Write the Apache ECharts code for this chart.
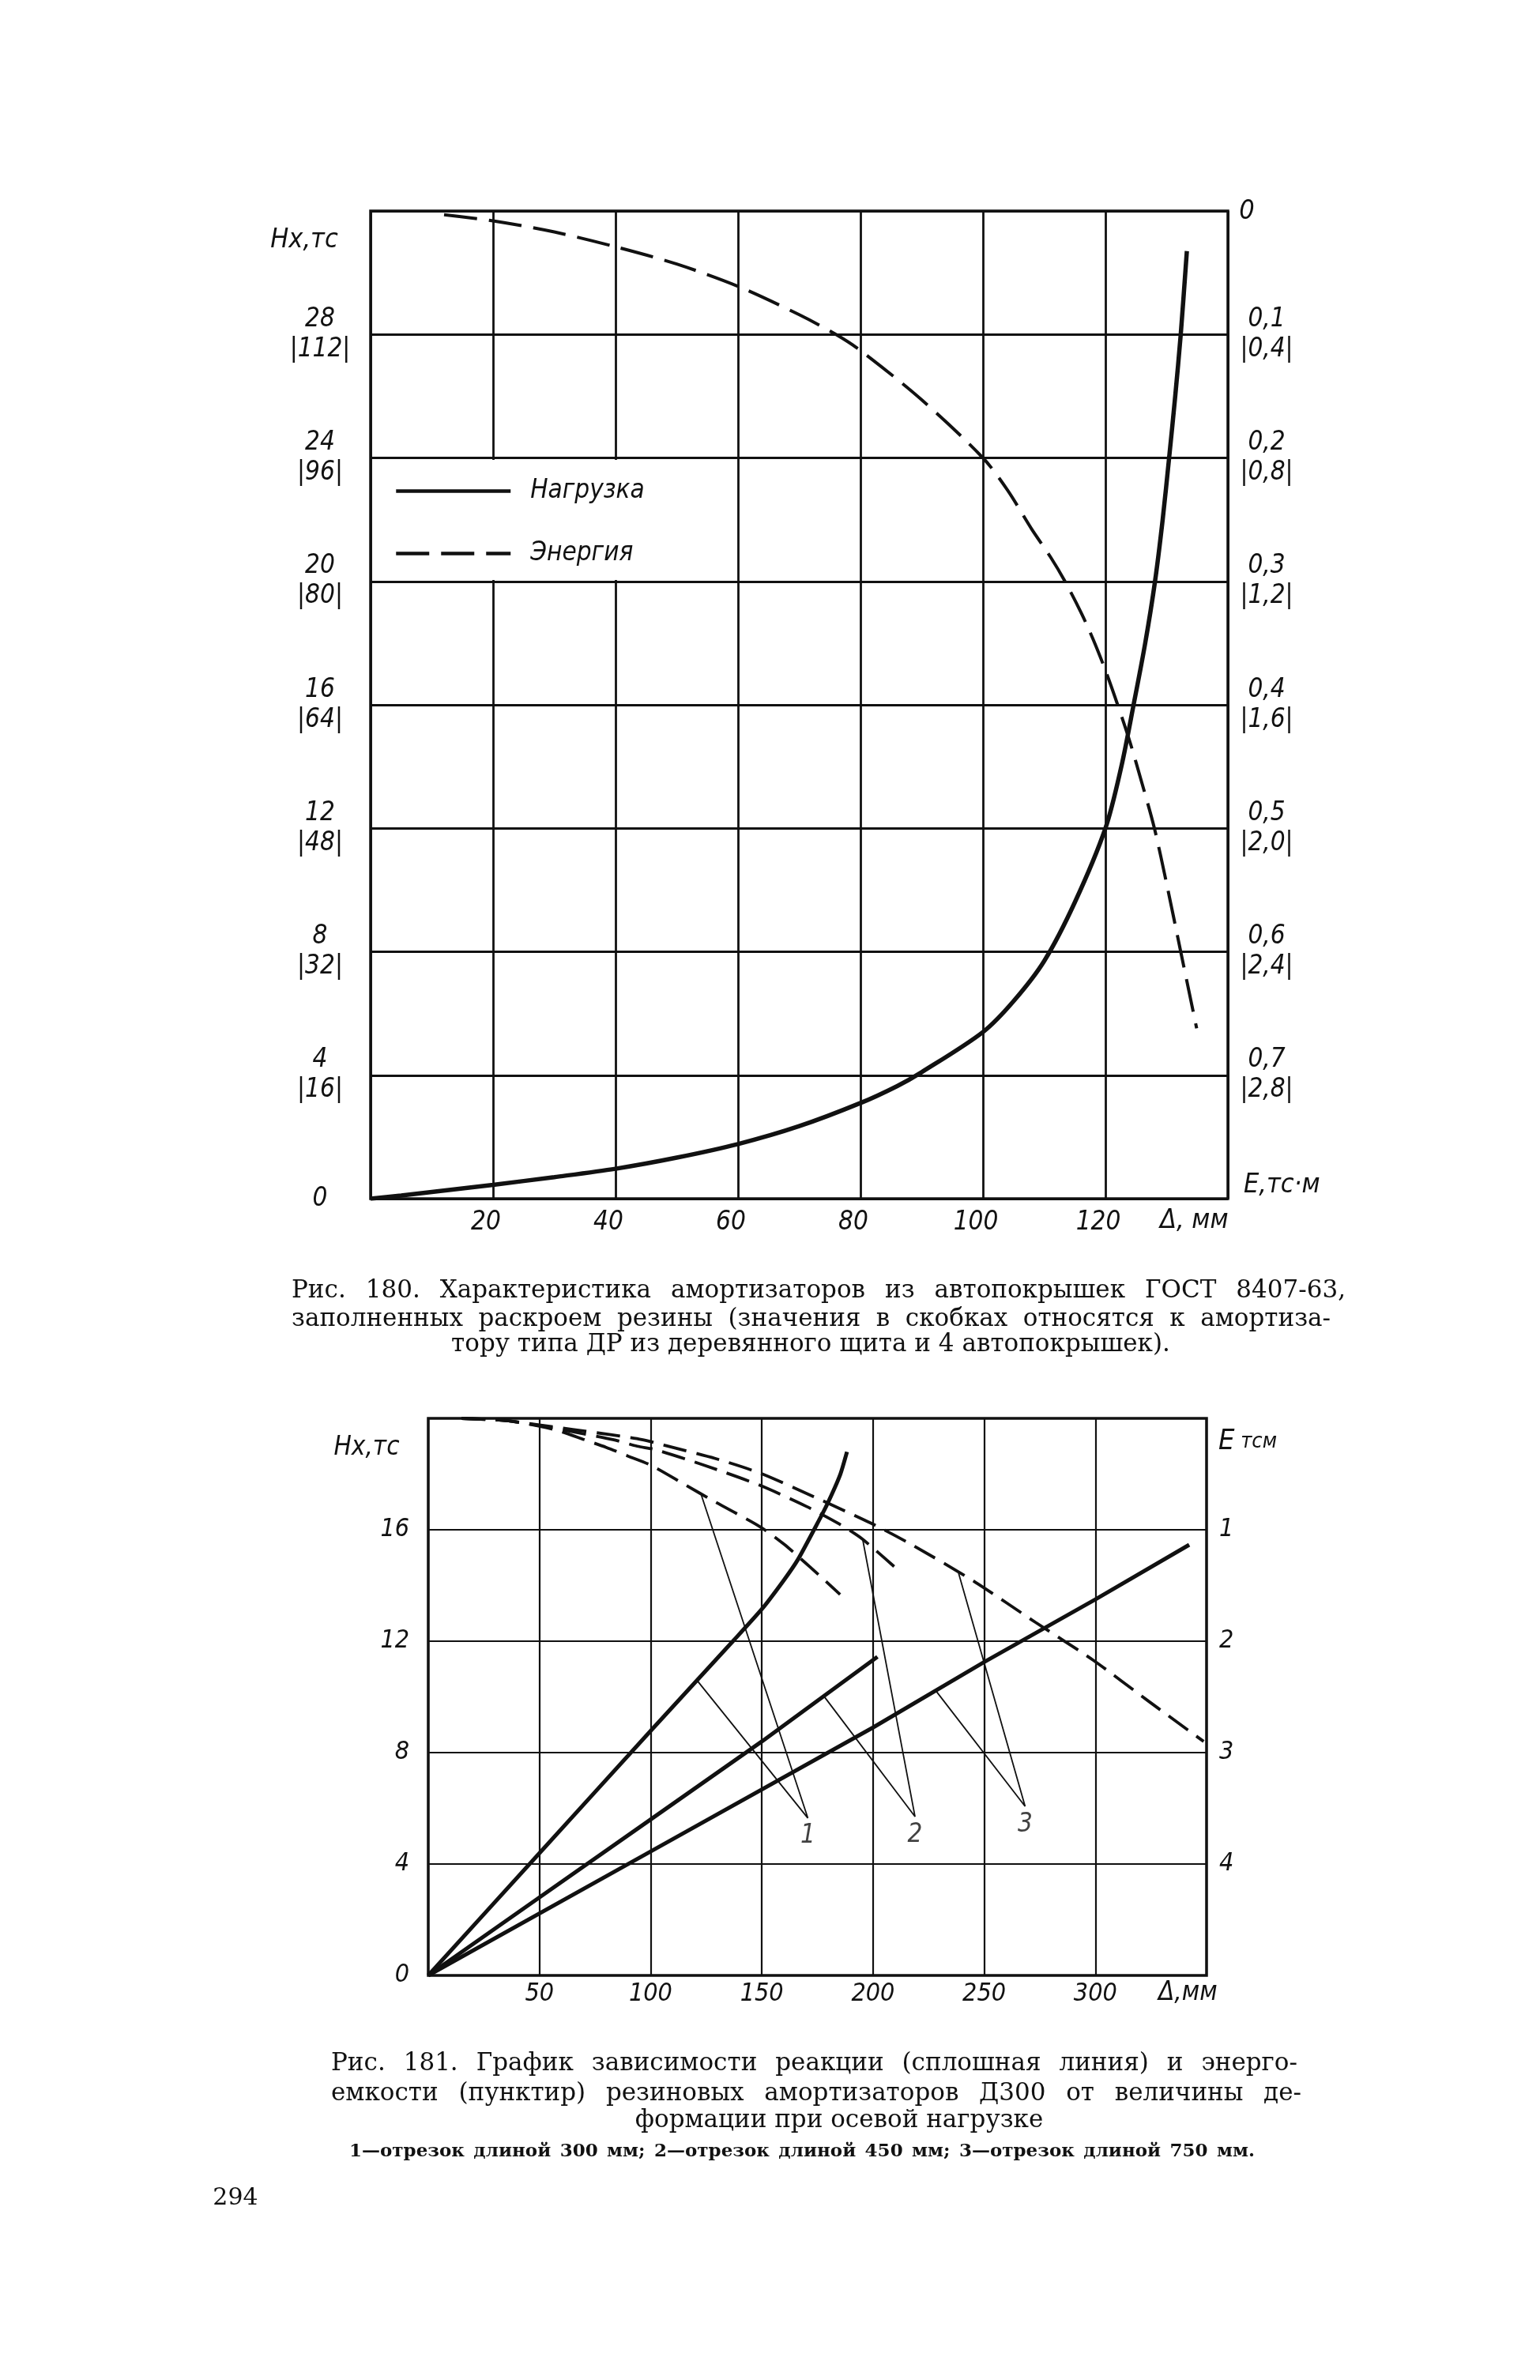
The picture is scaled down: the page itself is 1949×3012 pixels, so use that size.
<!DOCTYPE html>
<html><head><meta charset="utf-8">
<script src="https://cdn.jsdelivr.net/npm/echarts@6/dist/echarts.min.js"></script>
<style>html,body{margin:0;padding:0;background:#fff}#c{width:1949px;height:3012px}</style>
</head><body><div id="c"></div>
<script>
// ===== Fig. 180 data =====
const fig180LoadX   = [0,5,10,20,30,40,50,60,70,80,86,90,100,105,110,115,120,122.6,124.6,126.5,128.1,129.35,130.4,131.4,132.3,133.3];
const fig180LoadY   = [0,0.1,0.22,0.45,0.7,0.97,1.33,1.77,2.35,3.1,3.65,4.1,5.4,6.4,7.7,9.6,12.0,14.0,16.0,18.0,20.0,22.0,24.0,26.0,28.0,30.7];
const fig180EnergyX = [12,20,30,40,50,60,70,76,80,90,100,104,108,111,113.4,116,118,120,122,124,126,128,130,132.3,134.9];
const fig180EnergyE = [0.003,0.008,0.017,0.029,0.043,0.061,0.084,0.1,0.113,0.153,0.2,0.226,0.258,0.28,0.3,0.325,0.347,0.372,0.4,0.43,0.464,0.5,0.545,0.6,0.662];
const fig180XTicks      = [20,40,60,80,100,120];
const fig180LeftTicks   = [4,8,12,16,20,24,28];
const fig180LeftBracket = [16,32,48,64,80,96,112];
const fig180RightTicks  = ['0,1','0,2','0,3','0,4','0,5','0,6','0,7'];
const fig180RightBracket= ['0,4','0,8','1,2','1,6','2,0','2,4','2,8'];
const fig180Legend = ['Нагрузка','Энергия'];

// ===== Fig. 181 data =====
const load1X = [0,50,100,137,150,160,166.3,174.6,179.3,185.2,188.3];
const load1Y = [0,4.39,8.78,12.0,13.15,14.2,14.94,16.17,16.9,17.97,18.8];
const load2X = [0,50,100,150,202];
const load2Y = [0,2.8,5.6,8.4,11.44];
const load3X = [0,100,200,250,300,342.2];
const load3Y = [0,4.45,8.9,11.25,13.5,15.46];
const energy1X = [15,35,50,60,70,80,90,100,115,129,149,160,172,185.2];
const energy1E = [0,0.02,0.07,0.12,0.19,0.26,0.34,0.42,0.59,0.75,0.97,1.13,1.34,1.58];
const energy2X = [15,35,50,65,83,94,102,124,149,170,185,195,209.5];
const energy2E = [0,0.02,0.065,0.12,0.19,0.25,0.28,0.42,0.6,0.79,0.95,1.08,1.33];
const energy3X = [15,35,50,65,82,96,106,129,149,173,199,218,246,273,299,324,348.7];
const energy3E = [0,0.02,0.06,0.1,0.147,0.19,0.24,0.36,0.49,0.7,0.94,1.14,1.47,1.83,2.17,2.54,2.9];
// leader lines: [point on energy curve (in H units), apex, point on load line]
const leader1 = [[122.5,17.32],[170.7,5.65],[120.8,10.6]];
const leader2 = [[195.3,15.68],[218.9,5.7],[177.8,10.04]];
const leader3 = [[238.5,14.44],[268.4,6.07],[227.9,10.26]];
const leaderNames = ['1','2','3'];
const fig181XTicks = [50,100,150,200,250,300];
const fig181LeftTicks = [0,4,8,12,16];
const fig181RightTicks = [1,2,3,4];

const zip = (a,b) => a.map((v,i)=>[v,b[i]]);
const INK = '#111';
const NARROW = "'Liberation Sans Narrow','DejaVu Sans Condensed','Liberation Sans',sans-serif";
const SERIF = "'DejaVu Serif','Liberation Serif',serif";

const lblStyle = {color:INK, fontStyle:'italic', fontFamily:NARROW};

// ---------- justified caption helper ----------
const mctx = document.createElement('canvas').getContext('2d');
function justify(line, x0, x1, y, font) {
  const words = line.split(' ');
  mctx.font = font;
  const ws = words.map(w => mctx.measureText(w).width);
  const tot = ws.reduce((a,b)=>a+b,0);
  const gap = words.length > 1 ? (x1 - x0 - tot) / (words.length - 1) : 0;
  let x = x0; const out = [];
  words.forEach((w,i) => {
    out.push({type:'text', silent:true, z:10, style:{text:w, x:x, y:y, font:font, fill:INK, textVerticalAlign:'middle', verticalAlign:'middle'}});
    x += ws[i] + gap;
  });
  return out;
}
function txt(t, x, y, font, align) {
  return {type:'text', silent:true, z:10, style:{text:t, x:x, y:y, font:font, fill:INK,
    textAlign:align||'left', align:align||'left', textVerticalAlign:'middle', verticalAlign:'middle'}};
}

const capFont = "31px " + SERIF;
const noteFont = "bold 23px " + SERIF;
const itFont = "italic 34px " + NARROW;

let graphics = [];
// white patch behind the legend (hides the grid there, as in the original)
graphics.push({type:'rect', silent:true, z:1, shape:{x:471, y:582, width:457, height:152}, style:{fill:'#fff'}});
graphics.push(txt('Hx,тс', 385, 304, itFont, 'center'));
graphics.push(txt('0', 1578, 268, itFont, 'center'));
graphics.push(txt('E,тс·м', 1574, 1500, itFont, 'left'));
graphics.push(txt('Δ, мм', 1468, 1545, itFont, 'left'));
graphics.push(txt('Hx,тс', 464, 1832, "italic 33px " + NARROW, 'center'));
graphics.push({type:'text', silent:true, z:10, style:{text:'{a|E}{b| тсм}', x:1542, y:1825, fill:INK,
  textVerticalAlign:'middle', verticalAlign:'middle',
  rich:{a:{fontSize:36, fontStyle:'italic', fontFamily:NARROW, fill:INK},
        b:{fontSize:27, fontStyle:'italic', fontFamily:NARROW, fill:INK}}}});
graphics.push(txt('Δ,мм', 1466, 2522, "italic 33px " + NARROW, 'left'));

graphics = graphics.concat(
  justify('Рис. 180. Характеристика амортизаторов из автопокрышек ГОСТ 8407-63,', 369, 1703, 1634, capFont),
  justify('заполненных раскроем резины (значения в скобках относятся к амортиза-', 369, 1684, 1670, capFont)
);
graphics.push(txt('тору типа ДР из деревянного щита и 4 автопокрышек).', 1026, 1702, capFont, 'center'));
graphics = graphics.concat(
  justify('Рис. 181. График зависимости реакции (сплошная линия) и энерго-', 419, 1642, 2612, capFont),
  justify('емкости (пунктир) резиновых амортизаторов Д300 от величины де-', 419, 1647, 2650, capFont)
);
graphics.push(txt('формации при осевой нагрузке', 1062, 2684, capFont, 'center'));
graphics = graphics.concat(
  justify('1—отрезок длиной 300 мм; 2—отрезок длиной 450 мм; 3—отрезок длиной 750 мм.', 442, 1588, 2723, noteFont)
);
graphics.push(txt('294', 298, 2782, "30px " + SERIF, 'center'));

const chart = echarts.init(document.getElementById('c'), null, {renderer:'canvas'});

const option = {
  backgroundColor:'#fff',
  animation:false,
  grid:[
    {left:469, top:267, width:1085, height:1250, show:true, borderColor:INK, borderWidth:3.5, backgroundColor:'transparent'},
    {left:542, top:1795, width:985, height:705, show:true, borderColor:INK, borderWidth:3.5, backgroundColor:'transparent'}
  ],
  xAxis:[
    {gridIndex:0, type:'value', min:0, max:140, interval:20,
     axisLine:{show:false}, axisTick:{show:false},
     splitLine:{show:true, lineStyle:{color:INK, width:2.8}},
     axisLabel:Object.assign({margin:14, fontSize:33, padding:[0,18,0,0],
       formatter:v => fig180XTicks.includes(v) ? String(v) : ''}, lblStyle)},
    {gridIndex:1, type:'value', min:0, max:350, interval:50,
     axisLine:{show:false}, axisTick:{show:false},
     splitLine:{show:true, lineStyle:{color:INK, width:2.2}},
     axisLabel:Object.assign({margin:8, fontSize:32,
       formatter:v => fig181XTicks.includes(v) ? String(v) : ''}, lblStyle)}
  ],
  yAxis:[
    {gridIndex:0, type:'value', min:0, max:32, interval:4, position:'left',
     axisLine:{show:false}, axisTick:{show:false},
     splitLine:{show:true, lineStyle:{color:INK, width:2.8}},
     axisLabel:Object.assign({margin:64, fontSize:33, lineHeight:38, align:'center',
       formatter:v => { const i = fig180LeftTicks.indexOf(v);
         if (i >= 0) return v + '\n|' + fig180LeftBracket[i] + '|';
         return v === 0 ? '0' : ''; }}, lblStyle)},
    {gridIndex:0, type:'value', min:0, max:0.8, interval:0.1, inverse:true, position:'right',
     axisLine:{show:false}, axisTick:{show:false}, splitLine:{show:false},
     axisLabel:Object.assign({margin:49, fontSize:33, lineHeight:38, align:'center',
       formatter:v => { const k = Math.round(v*10);
         if (k >= 1 && k <= 7) return fig180RightTicks[k-1] + '\n|' + fig180RightBracket[k-1] + '|';
         return ''; }}, lblStyle)},
    {gridIndex:1, type:'value', min:0, max:20, interval:4, position:'left',
     axisLine:{show:false}, axisTick:{show:false},
     splitLine:{show:true, lineStyle:{color:INK, width:2.2}},
     axisLabel:Object.assign({margin:24, fontSize:32, align:'right',
       formatter:v => fig181LeftTicks.includes(v) ? String(v) : ''}, lblStyle)},
    {gridIndex:1, type:'value', min:0, max:5, interval:1, inverse:true, position:'right',
     axisLine:{show:false}, axisTick:{show:false}, splitLine:{show:false},
     axisLabel:Object.assign({margin:16, fontSize:32, align:'left',
       formatter:v => fig181RightTicks.includes(v) ? String(v) : ''}, lblStyle)}
  ],
  legend:{
    data:fig180Legend, orient:'vertical', left:472, top:585,
    itemWidth:145, itemHeight:30, itemGap:46,
    padding:[20,0,0,27],
    itemStyle:{opacity:0, color:'rgba(0,0,0,0)', borderWidth:0},
    lineStyle:{width:4.5},
    textStyle:{color:INK, fontSize:33, fontStyle:'italic', fontFamily:NARROW, padding:[0,0,0,20]},
    selectedMode:false, z:5
  },
  graphic:{elements:graphics},
  series:[
    {name:fig180Legend[0], type:'line', xAxisIndex:0, yAxisIndex:0, data:zip(fig180LoadX, fig180LoadY),
     smooth:0.3, symbol:'none', lineStyle:{color:INK, width:5.5}, itemStyle:{color:INK}, z:3},
    {name:fig180Legend[1], type:'line', xAxisIndex:0, yAxisIndex:1, data:zip(fig180EnergyX, fig180EnergyE),
     smooth:0.3, symbol:'none', lineStyle:{color:INK, width:4, type:[42,15]}, itemStyle:{color:INK}, z:3},

    {name:'load1', type:'line', xAxisIndex:1, yAxisIndex:2, data:zip(load1X, load1Y),
     smooth:0.2, symbol:'none', lineStyle:{color:INK, width:5}, z:3},
    {name:'load2', type:'line', xAxisIndex:1, yAxisIndex:2, data:zip(load2X, load2Y),
     symbol:'none', lineStyle:{color:INK, width:5}, z:3},
    {name:'load3', type:'line', xAxisIndex:1, yAxisIndex:2, data:zip(load3X, load3Y),
     symbol:'none', lineStyle:{color:INK, width:5}, z:3},
    {name:'energy1', type:'line', xAxisIndex:1, yAxisIndex:3, data:zip(energy1X, energy1E),
     smooth:0.25, symbol:'none', lineStyle:{color:INK, width:3.8, type:[30,13]}, z:3},
    {name:'energy2', type:'line', xAxisIndex:1, yAxisIndex:3, data:zip(energy2X, energy2E),
     smooth:0.25, symbol:'none', lineStyle:{color:INK, width:3.8, type:[30,13]}, z:3},
    {name:'energy3', type:'line', xAxisIndex:1, yAxisIndex:3, data:zip(energy3X, energy3E),
     smooth:0.25, symbol:'none', lineStyle:{color:INK, width:3.8, type:[30,13]}, z:3},
    {name:'leader1', type:'line', xAxisIndex:1, yAxisIndex:2, data:leader1, symbol:'none', lineStyle:{color:INK, width:1.8}, z:2},
    {name:'leader2', type:'line', xAxisIndex:1, yAxisIndex:2, data:leader2, symbol:'none', lineStyle:{color:INK, width:1.8}, z:2},
    {name:'leader3', type:'line', xAxisIndex:1, yAxisIndex:2, data:leader3, symbol:'none', lineStyle:{color:INK, width:1.8}, z:2},
    {name:'leaderLabels', type:'scatter', xAxisIndex:1, yAxisIndex:2,
     data:[leader1[1], leader2[1], leader3[1]].map((p,i)=>({value:p, name:leaderNames[i]})),
     symbolSize:1, itemStyle:{color:'rgba(0,0,0,0)'},
     label:{show:true, position:'bottom', distance:6, formatter:p => p.name,
       fontSize:33, fontStyle:'italic', fontFamily:NARROW, color:INK}, z:4}
  ]
};
chart.setOption(option);
</script></body></html>
